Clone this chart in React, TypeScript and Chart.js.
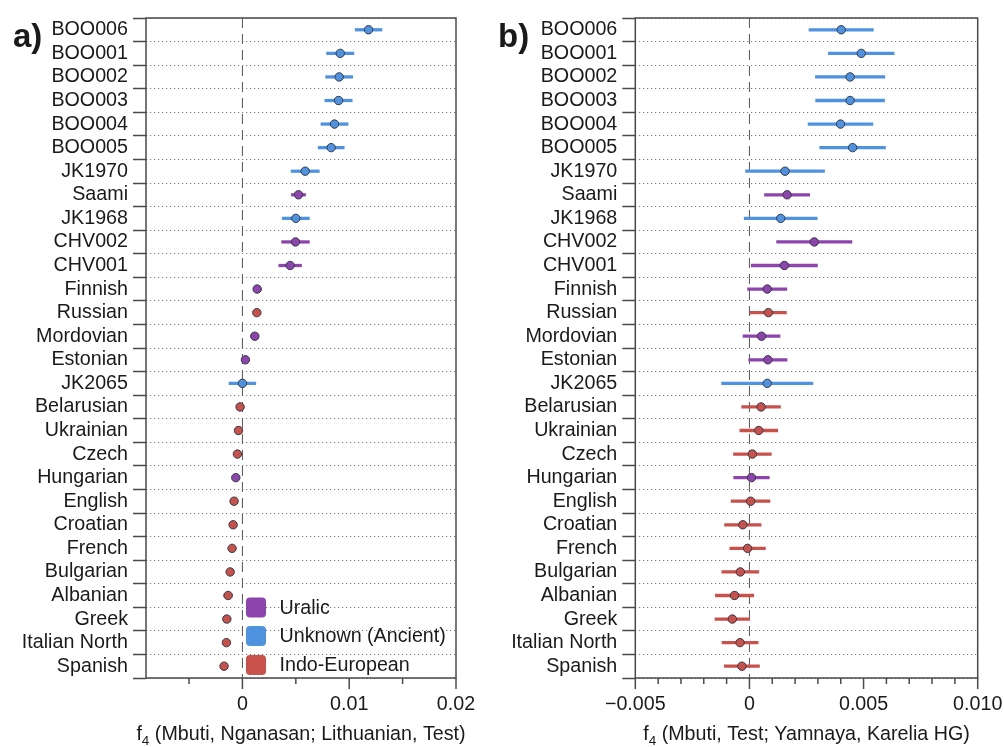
import React, { useEffect, useRef } from "react";
import { Chart, registerables } from "chart.js";
Chart.register(...registerables);

const populations = [
  "BOO006", "BOO001", "BOO002", "BOO003", "BOO004", "BOO005", "JK1970", "Saami",
  "JK1968", "CHV002", "CHV001", "Finnish", "Russian", "Mordovian", "Estonian", "JK2065",
  "Belarusian", "Ukrainian", "Czech", "Hungarian", "English", "Croatian", "French",
  "Bulgarian", "Albanian", "Greek", "Italian North", "Spanish",
];
// 0 = Uralic, 1 = Unknown (Ancient), 2 = Indo-European
const groupOf = [1, 1, 1, 1, 1, 1, 1, 0, 1, 0, 0, 0, 2, 0, 0, 1, 2, 2, 2, 0, 2, 2, 2, 2, 2, 2, 2, 2];
const groupNames = ["Uralic", "Unknown (Ancient)", "Indo-European"];
const groupColors = ["#8E44AD", "#4F93E0", "#C9514B"];

// Panel a: f4(Mbuti, Nganasan; Lithuanian, Test)
const f4A = [
  0.01181, 0.00916, 0.00906, 0.0090, 0.00862, 0.00831, 0.00588, 0.00525,
  0.0050, 0.00497, 0.00447, 0.00138, 0.00135, 0.00116, 0.00028, 0.0,
  -0.00022, -0.00037, -0.00047, -0.00062, -0.00078, -0.00087, -0.00097,
  -0.00115, -0.00134, -0.00146, -0.0015, -0.00172,
];
const seA = [
  0.00125, 0.00128, 0.00127, 0.00128, 0.00127, 0.00122, 0.00132, 0.00066,
  0.00127, 0.0013, 0.00106, 0.00036, 0.0003, 0.00036, 0.0003, 0.00125,
  0.0003, 0.0003, 0.0003, 0.0003, 0.0003, 0.0003, 0.0003,
  0.0003, 0.0004, 0.0003, 0.0003, 0.0003,
];

// Panel b: f4(Mbuti, Test; Yamnaya, Karelia HG)
const f4B = [
  0.00402, 0.0049, 0.00441, 0.00441, 0.00399, 0.00452, 0.00156, 0.00165,
  0.00137, 0.00284, 0.00153, 0.00078, 0.00083, 0.00053, 0.00081, 0.00078,
  0.00051, 0.00041, 0.00013, 0.00009, 0.00005, -0.00029, -0.00008,
  -0.0004, -0.00065, -0.00075, -0.00041, -0.00033,
];
const seB = [
  0.00141, 0.00144, 0.00152, 0.00151, 0.00142, 0.00144, 0.00173, 0.00099,
  0.0016, 0.00165, 0.00145, 0.00086, 0.00079, 0.00081, 0.00084, 0.002,
  0.00085, 0.00083, 0.00083, 0.00078, 0.00085, 0.0008, 0.00078,
  0.00081, 0.00084, 0.00076, 0.00079, 0.00077,
];

const tickValuesA = [-0.005, 0, 0.005, 0.01, 0.015, 0.02];
const tickLabelsA = ["", "0", "", "0.01", "", "0.02"];
const tickValuesB = [
  -0.005, -0.004, -0.003, -0.002, -0.001, 0, 0.001, 0.002, 0.003, 0.004,
  0.005, 0.006, 0.007, 0.008, 0.009, 0.01,
];
const tickLabelsB = [
  "\u22120.005", "", "", "", "", "0", "", "", "", "", "0.005", "", "", "", "", "0.010",
];

const FONT = '"Liberation Sans", Arial, Helvetica, sans-serif';
const FS = 19.7;
const TEXT = "#1a1a1a";
const AXIS = "#4a4a4a";

type PanelCfg = {
  letter: string;
  letterX: number;
  values: number[];
  se: number[];
  min: number;
  max: number;
  tickValues: number[];
  tickLabels: string[];
  titleRest: string;
  yWidth: number;
  padRight: number;
  legend: boolean;
};

function makePlugin(p: PanelCfg) {
  return {
    id: "panelDeco" + p.letter,
    beforeDatasetsDraw(chart: any) {
      const { ctx, chartArea: a } = chart;
      const x = chart.scales.x;
      const x0 = x.getPixelForValue(0);
      ctx.save();
      ctx.strokeStyle = "#555";
      ctx.lineWidth = 1;
      ctx.setLineDash([10, 6]);
      ctx.beginPath();
      ctx.moveTo(x0, a.top);
      ctx.lineTo(x0, a.bottom);
      ctx.stroke();
      ctx.restore();
    },
    afterDatasetsDraw(chart: any) {
      const { ctx, chartArea: a } = chart;
      const x = chart.scales.x;
      ctx.save();
      // box
      ctx.strokeStyle = AXIS;
      ctx.lineWidth = 1.5;
      ctx.strokeRect(a.left, a.top, a.right - a.left, a.bottom - a.top);
      // x ticks
      p.tickValues.forEach((v, i) => {
        const px = x.getPixelForValue(v);
        const len = p.tickLabels[i] ? 11 : 6;
        ctx.beginPath();
        ctx.moveTo(px, a.bottom);
        ctx.lineTo(px, a.bottom + len);
        ctx.stroke();
      });
      // axis title with subscript
      const cx = (a.left + a.right) / 2;
      const by = 740;
      ctx.fillStyle = TEXT;
      ctx.textBaseline = "alphabetic";
      ctx.textAlign = "left";
      ctx.font = `${FS}px ${FONT}`;
      const wf = ctx.measureText("f").width;
      const wr = ctx.measureText(p.titleRest).width;
      ctx.font = `13.5px ${FONT}`;
      const ws = ctx.measureText("4").width;
      let sx = cx - (wf + ws + wr) / 2;
      ctx.font = `${FS}px ${FONT}`;
      ctx.fillText("f", sx, by);
      sx += wf;
      ctx.font = `13.5px ${FONT}`;
      ctx.fillText("4", sx, by + 5);
      sx += ws;
      ctx.font = `${FS}px ${FONT}`;
      ctx.fillText(p.titleRest, sx, by);
      // panel letter
      ctx.font = `bold 33px ${FONT}`;
      ctx.fillText(p.letter + ")", p.letterX, 47);
      // legend
      if (p.legend) {
        const lx = a.left + 100;
        const rows = [607.5, 636, 665];
        groupNames.forEach((name, gi) => {
          const cy = rows[gi];
          ctx.fillStyle = groupColors[gi];
          const s = 20, r = 4;
          const x1 = lx, y1 = cy - s / 2;
          ctx.beginPath();
          ctx.moveTo(x1 + r, y1);
          ctx.lineTo(x1 + s - r, y1);
          ctx.quadraticCurveTo(x1 + s, y1, x1 + s, y1 + r);
          ctx.lineTo(x1 + s, y1 + s - r);
          ctx.quadraticCurveTo(x1 + s, y1 + s, x1 + s - r, y1 + s);
          ctx.lineTo(x1 + r, y1 + s);
          ctx.quadraticCurveTo(x1, y1 + s, x1, y1 + s - r);
          ctx.lineTo(x1, y1 + r);
          ctx.quadraticCurveTo(x1, y1, x1 + r, y1);
          ctx.fill();
          ctx.fillStyle = TEXT;
          ctx.font = `${FS}px ${FONT}`;
          ctx.textBaseline = "middle";
          ctx.fillText(name, lx + 33.5, cy + 1);
        });
      }
      ctx.restore();
    },
  };
}

function makeChart(canvas: HTMLCanvasElement, p: PanelCfg) {
  const colors = groupOf.map((g) => groupColors[g]);
  return new Chart(canvas, {
    type: "bar",
    data: {
      labels: populations,
      datasets: [
        {
          type: "bar",
          indexAxis: "y",
          data: p.values.map((v, i) => [v - p.se[i], v + p.se[i]]),
          backgroundColor: colors,
          borderWidth: 0,
          barThickness: 2.6,
          order: 1,
        } as any,
        {
          type: "line",
          indexAxis: "y",
          data: p.values,
          showLine: false,
          pointRadius: 4.2,
          pointBorderWidth: 1,
          pointBackgroundColor: colors,
          pointBorderColor: "#343a48",
          order: 0,
        } as any,
      ],
    },
    options: {
      indexAxis: "y",
      responsive: false,
      animation: false,
      events: [],
      layout: { padding: { left: 0, top: 18, right: p.padRight, bottom: 0 } },
      plugins: { legend: { display: false }, tooltip: { enabled: false }, title: { display: false } },
      scales: {
        x: {
          type: "linear",
          position: "bottom",
          min: p.min,
          max: p.max,
          afterBuildTicks: (scale: any) => {
            scale.ticks = p.tickValues.map((v) => ({ value: v }));
          },
          afterFit: (scale: any) => {
            scale.height = 69;
            scale.paddingLeft = 0;
            scale.paddingRight = 0;
          },
          grid: { display: false, drawTicks: false, drawOnChartArea: false },
          border: { display: false },
          ticks: {
            autoSkip: false,
            maxRotation: 0,
            padding: 15,
            color: TEXT,
            font: { family: FONT, size: FS },
            callback: (value: any) => {
              const i = p.tickValues.findIndex((t) => Math.abs(t - Number(value)) < 1e-9);
              return i >= 0 ? p.tickLabels[i] : "";
            },
          },
        },
        y: {
          type: "category",
          position: "left",
          offset: true,
          afterFit: (scale: any) => {
            scale.width = p.yWidth;
          },
          grid: {
            offset: true,
            color: "#7a7a7a",
            lineWidth: 1,
            drawOnChartArea: true,
            drawTicks: true,
            tickLength: 13,
            tickColor: AXIS,
            tickWidth: 1.5,
          },
          border: { display: false, dash: [1.2, 2.8] },
          ticks: {
            autoSkip: false,
            padding: 5,
            color: TEXT,
            font: { family: FONT, size: FS },
          },
        },
      },
    } as any,
    plugins: [makePlugin(p)],
  });
}

const panelA: PanelCfg = {
  letter: "a",
  letterX: 13,
  values: f4A,
  se: seA,
  min: -0.00903,
  max: 0.02,
  tickValues: tickValuesA,
  tickLabels: tickLabelsA,
  titleRest: " (Mbuti, Nganasan; Lithuanian, Test)",
  yWidth: 146,
  padRight: 34,
  legend: true,
};

const panelB: PanelCfg = {
  letter: "b",
  letterX: 8,
  values: f4B,
  se: seB,
  min: -0.005,
  max: 0.01,
  tickValues: tickValuesB,
  tickLabels: tickLabelsB,
  titleRest: " (Mbuti, Test; Yamnaya, Karelia HG)",
  yWidth: 145.3,
  padRight: 26.3,
  legend: false,
};

export default function App() {
  const refA = useRef<HTMLCanvasElement>(null);
  const refB = useRef<HTMLCanvasElement>(null);
  useEffect(() => {
    const ca = makeChart(refA.current!, panelA);
    const cb = makeChart(refB.current!, panelB);
    return () => {
      ca.destroy();
      cb.destroy();
    };
  }, []);
  return (
    <div style={{ position: "fixed", left: 0, top: 0, width: 1004, height: 747, background: "#fff", overflow: "hidden" }}>
      <canvas ref={refA} width={490} height={747} style={{ position: "absolute", left: 0, top: 0, width: 490, height: 747 }} />
      <canvas ref={refB} width={514} height={747} style={{ position: "absolute", left: 490, top: 0, width: 514, height: 747 }} />
    </div>
  );
}
